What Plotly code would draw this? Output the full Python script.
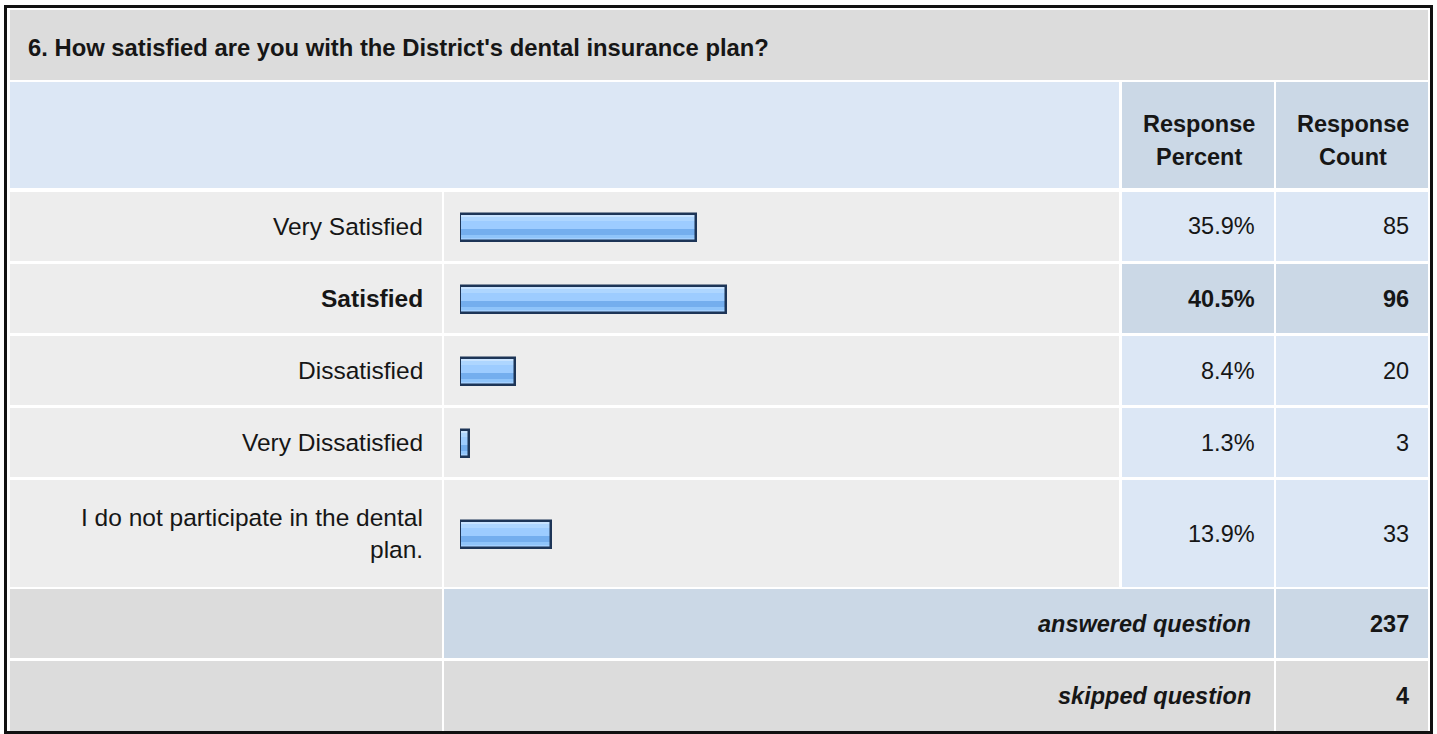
import plotly.graph_objects as go

# ---------------- data ----------------
title_text = "6. How satisfied are you with the District's dental insurance plan?"
answer_labels = ["Very Satisfied", "Satisfied", "Dissatisfied", "Very Dissatisfied",
                 "I do not participate in the dental plan."]
response_percent = [35.9, 40.5, 8.4, 1.3, 13.9]
response_count = [85, 96, 20, 3, 33]
highlight = [False, True, False, False, False]
answered_question = 237
skipped_question = 4

# ---------------- layout constants (pixels) ----------------
W, H = 1437, 734
FONT = "Liberation Sans, Arial, Helvetica, sans-serif"
TXT = "#161616"
C_TITLE = "#DCDCDC"
C_LIGHT = "#EDEDED"
C_BLUE = "#DCE7F5"
C_BLUE2 = "#CBD8E6"
FS = 23.5
FS_LABEL = 24.5

COL_LABEL = (10, 442)
COL_BAR = (444, 1119)
COL_PCT = (1122, 1274)
COL_CNT = (1276, 1428)
ROWS = [(192, 261), (264, 333), (336, 405), (408, 477), (480, 587)]
BAR_X0 = 460
BAR_PX_PER_100 = 657


def px(x):
    return x / W


def py(y):
    return 1 - y / H


shapes = []


def cell(x0, y0, x1, y1, color):
    shapes.append(dict(type="rect", xref="paper", yref="paper",
                       x0=px(x0), x1=px(x1), y0=py(y1), y1=py(y0),
                       fillcolor=color, line=dict(width=0), layer="below"))


annotations = []


def text(x, y, s, anchor="right", size=FS, bold=False, italic=False):
    if bold:
        s = "<b>" + s + "</b>"
    if italic:
        s = "<i>" + s + "</i>"
    annotations.append(dict(xref="paper", yref="paper", x=px(x), y=py(y), text=s,
                            showarrow=False, xanchor=anchor, yanchor="middle",
                            font=dict(family=FONT, size=size, color=TXT)))


# outer frame
shapes.append(dict(type="rect", xref="paper", yref="paper",
                   x0=px(5.5), x1=px(1431.5), y0=py(732.5), y1=py(6.5),
                   fillcolor="rgba(0,0,0,0)", line=dict(color="#111111", width=3),
                   layer="below"))

# title
cell(10, 10, 1428, 80, C_TITLE)
text(26, 47, title_text, anchor="left", size=23.8, bold=True)

# header
cell(10, 82, 1119, 188, C_BLUE)
cell(COL_PCT[0], 82, COL_PCT[1], 188, C_BLUE2)
cell(COL_CNT[0], 82, COL_CNT[1], 188, C_BLUE2)
for col, words in ((COL_PCT, ("Response", "Percent")), (COL_CNT, ("Response", "Count"))):
    cx = (col[0] + col[1]) / 2 + 1
    text(cx, 124, words[0], anchor="center", bold=True)
    text(cx, 157, words[1], anchor="center", bold=True)

# data rows
row_centers = []
for i, (y0, y1) in enumerate(ROWS):
    cell(COL_LABEL[0], y0, COL_LABEL[1], y1, C_LIGHT)
    cell(COL_BAR[0], y0, COL_BAR[1], y1, C_LIGHT)
    c = C_BLUE2 if highlight[i] else C_BLUE
    cell(COL_PCT[0], y0, COL_PCT[1], y1, c)
    cell(COL_CNT[0], y0, COL_CNT[1], y1, c)
    yc = (y0 + y1) / 2
    row_centers.append(yc + 1)
    lab = answer_labels[i]
    if len(lab) > 30:
        parts = lab.rsplit(" ", 1)
        text(425, yc - 16, parts[0], size=FS_LABEL, bold=highlight[i])
        text(425, yc + 16, parts[1], size=FS_LABEL, bold=highlight[i])
    else:
        text(425, yc, lab, size=FS_LABEL, bold=highlight[i])
    text(1257, yc, f"{response_percent[i]:.1f}%", bold=highlight[i])
    text(1411, yc, str(response_count[i]), bold=highlight[i])

# answered / skipped
cell(COL_LABEL[0], 589, COL_LABEL[1], 658, C_TITLE)
cell(COL_BAR[0], 589, COL_PCT[1], 658, C_BLUE2)
cell(COL_CNT[0], 589, COL_CNT[1], 658, C_BLUE2)
text(1253, 624, "answered question", bold=True, italic=True)
text(1411, 624, str(answered_question), bold=True)

cell(COL_LABEL[0], 661, COL_LABEL[1], 731, C_TITLE)
cell(COL_BAR[0], 661, COL_PCT[1], 731, C_TITLE)
cell(COL_CNT[0], 661, COL_CNT[1], 731, C_TITLE)
text(1253, 696, "skipped question", bold=True, italic=True)
text(1411, 696, str(skipped_question), bold=True)

# ---------------- bars (glossy stripes + border) ----------------
stripes = [(-13, -10.5, "#C8E3FF"), (-10.5, -7, "#AED6FF"), (-7, 1.5, "#9DCCFF"),
           (1.5, 7.5, "#74AEEE"), (7.5, 10.5, "#8FC4FA"), (10.5, 13, "#A4D0FF")]

fig = go.Figure()
for a, b, col in stripes:
    fig.add_trace(go.Bar(x=response_percent, y=row_centers, orientation="h",
                         width=b - a, offset=a, marker=dict(color=col, line=dict(width=0)),
                         hoverinfo="skip", showlegend=False))
fig.add_trace(go.Bar(x=response_percent, y=row_centers, orientation="h",
                     width=27, offset=-13.5,
                     marker=dict(color="rgba(0,0,0,0)", line=dict(color="#1D3557", width=2.5)),
                     customdata=answer_labels,
                     hovertemplate="%{customdata}: %{x}%<extra></extra>",
                     showlegend=False))

fig.update_layout(
    width=W, height=H, margin=dict(l=0, r=0, t=0, b=0),
    paper_bgcolor="white", plot_bgcolor="rgba(0,0,0,0)",
    barmode="overlay", bargap=0,
    xaxis=dict(domain=[px(BAR_X0), px(BAR_X0 + BAR_PX_PER_100)], range=[0, 100],
               visible=False, fixedrange=True),
    yaxis=dict(domain=[0, 1], range=[H, 0], visible=False, fixedrange=True),
    shapes=shapes, annotations=annotations,
)
fig.write_html("out.html")
